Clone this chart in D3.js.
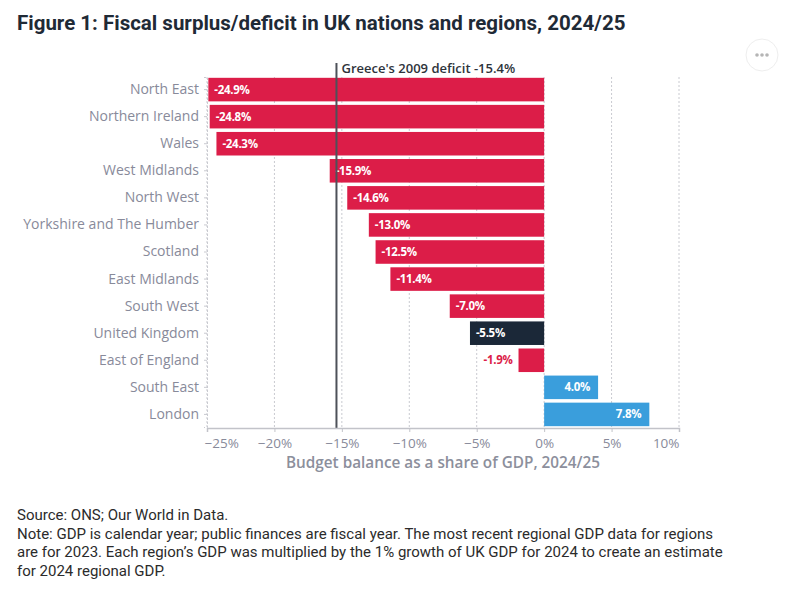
<!DOCTYPE html>
<html>
<head>
<meta charset="utf-8">
<script src="https://cdn.jsdelivr.net/npm/d3@7/dist/d3.min.js"></script>
<style>
  body { margin: 0; background: #fff; }
  svg { display: block; font-family: 'Open Sans', 'Noto Sans', sans-serif; }
</style>
</head>
<body>
<div id="chart"></div>
<script>
const REGIONS = ['North East', 'Northern Ireland', 'Wales', 'West Midlands', 'North West',
    'Yorkshire and The Humber', 'Scotland', 'East Midlands', 'South West', 'United Kingdom',
    'East of England', 'South East', 'London']
const BALANCE = [-24.9, -24.8, -24.3, -15.9, -14.6, -13.0, -12.5, -11.4, -7.0, -5.5, -1.9, 4.0, 7.8]
const X_TICKS = [-25, -20, -15, -10, -5, 0, 5, 10]
const GREECE_2009 = -15.4
const NOTES = [
    'Source: ONS; Our World in Data.',
    'Note: GDP is calendar year; public finances are fiscal year. The most recent regional GDP data for regions',
    'are for 2023. Each region\u2019s GDP was multiplied by the 1% growth of UK GDP for 2024 to create an estimate',
    'for 2024 regional GDP.'
]

const W = 800, H = 594
const CONFIG = {
    red: '#DC1D48',
    navy: '#1B2838',
    blue: '#3A9EDC',
    label: '#888a9a',
    grid: '#c9cad0',
    title: '#1f2a36',
    margin: { top: 77, left: 207, right: 121, bottom: 166 }
}

const svg = d3.select('#chart').append('svg')
    .attr('width', W)
    .attr('height', H)

const x = d3.scaleLinear()
    .domain([-25, 10])
    .range([CONFIG.margin.left, W - CONFIG.margin.right])
const y = d3.scaleBand()
    .domain(REGIONS)
    .range([CONFIG.margin.top, H - CONFIG.margin.bottom - 1])
    .paddingInner(0.13)
    .paddingOuter(0.03)

const plotTop = CONFIG.margin.top
const plotBottom = H - CONFIG.margin.bottom

/**
 * Title
 */
svg.append('text')
    .attr('x', 17)
    .attr('y', 30)
    .attr('font-family', 'Roboto, sans-serif')
    .attr('font-weight', 700)
    .attr('font-size', '20.5px')
    .attr('fill', CONFIG.title)
    .text('Figure 1: Fiscal surplus/deficit in UK nations and regions, 2024/25')

// menu button
const btn = svg.append('g').attr('transform', 'translate(762, 55)')
btn.append('circle').attr('r', 16).attr('fill', '#fff').attr('stroke', '#eeeeee')
btn.selectAll('circle.dot')
    .data([-5, 0, 5])
    .enter().append('circle')
    .attr('class', 'dot')
    .attr('cx', d => d)
    .attr('r', 1.8)
    .attr('fill', '#b5b5b5')

/**
 * Gridlines
 */
svg.append('g').selectAll('line')
    .data(X_TICKS)
    .enter().append('line')
    .attr('x1', d => x(d)).attr('x2', d => x(d))
    .attr('y1', plotTop).attr('y2', plotBottom)
    .attr('stroke', CONFIG.grid)
    .attr('stroke-width', 1)
    .attr('stroke-dasharray', '2,2')

/**
 * Bars
 */
const colorOf = (d, i) => {
    if (REGIONS[i] === 'United Kingdom') return CONFIG.navy
    return d < 0 ? CONFIG.red : CONFIG.blue
}
const isShort = d => Math.abs(x(d) - x(0)) < 40

svg.append('g').selectAll('rect')
    .data(BALANCE)
    .enter().append('rect')
    .attr('x', d => x(Math.min(0, d)))
    .attr('width', d => Math.abs(x(d) - x(0)))
    .attr('y', (d, i) => y(REGIONS[i]))
    .attr('height', y.bandwidth())
    .attr('fill', colorOf)

// bar value labels
svg.append('g').selectAll('text')
    .data(BALANCE)
    .enter().append('text')
    .attr('x', d => {
        if (d >= 0) return x(d) - 8
        if (isShort(d)) return x(d) - 6
        return x(d) + 6
    })
    .attr('y', (d, i) => y(REGIONS[i]) + y.bandwidth() / 2)
    .attr('dy', '0.35em')
    .attr('text-anchor', d => (d >= 0 || isShort(d)) ? 'end' : 'start')
    .attr('font-size', '11.5px')
    .attr('font-weight', 700)
    .attr('letter-spacing', '-0.3px')
    .attr('fill', d => isShort(d) ? CONFIG.red : '#fff')
    .text(d => d.toFixed(1) + '%')

/**
 * Greece reference line
 */
svg.append('line')
    .attr('x1', x(GREECE_2009)).attr('x2', x(GREECE_2009))
    .attr('y1', 63).attr('y2', plotBottom)
    .attr('stroke', '#4d5159')
    .attr('stroke-width', 2)

svg.append('text')
    .attr('x', x(GREECE_2009) + 5)
    .attr('y', 73)
    .attr('font-size', '13px')
    .attr('font-weight', 600)
    .attr('fill', '#2e333b')
    .text(`Greece's 2009 deficit ${GREECE_2009}%`)

/**
 * Axes
 */
const yAxis = svg.append('g')
    .attr('transform', `translate(${CONFIG.margin.left}, 0)`)
    .call(d3.axisLeft(y).tickSize(3).tickPadding(5))
yAxis.select('.domain').attr('stroke', CONFIG.grid).attr('stroke-dasharray', '2,2')
yAxis.selectAll('.tick line').attr('stroke', CONFIG.grid)
yAxis.selectAll('.tick text')
    .attr('font-family', "'Open Sans', sans-serif")
    .attr('font-size', '14px')
    .attr('fill', CONFIG.label)

const xAxis = svg.append('g')
    .attr('transform', `translate(0, ${plotBottom})`)
    .call(d3.axisBottom(x).tickValues(X_TICKS).tickSize(4).tickPadding(6)
        .tickFormat(d => (d < 0 ? '\u2212' + Math.abs(d) : d) + '%'))
xAxis.select('.domain').attr('stroke', '#c2c3c9').attr('stroke-width', 1.5)
xAxis.selectAll('.tick line').attr('stroke', '#c2c3c9')
xAxis.selectAll('.tick text')
    .attr('font-family', "'Open Sans', sans-serif")
    .attr('font-size', '13.5px')
    .attr('fill', CONFIG.label)
    .attr('text-anchor', (d, i) => i === 0 ? 'start' : (i === X_TICKS.length - 1 ? 'end' : 'middle'))
    .attr('dx', (d, i) => i === 0 ? -3 : 0)

svg.append('text')
    .attr('x', 443)
    .attr('y', 468)
    .attr('text-anchor', 'middle')
    .attr('font-size', '15.3px')
    .attr('font-weight', 600)
    .attr('fill', '#8c8f9c')
    .text('Budget balance as a share of GDP, 2024/25')

/**
 * Notes
 */
svg.append('g').selectAll('text')
    .data(NOTES)
    .enter().append('text')
    .attr('x', 17)
    .attr('y', (d, i) => 520 + i * 18.5)
    .attr('font-family', 'Roboto, sans-serif')
    .attr('font-size', '15px')
    .attr('fill', '#2b2b2b')
    .text(d => d)
</script>
</body>
</html>
